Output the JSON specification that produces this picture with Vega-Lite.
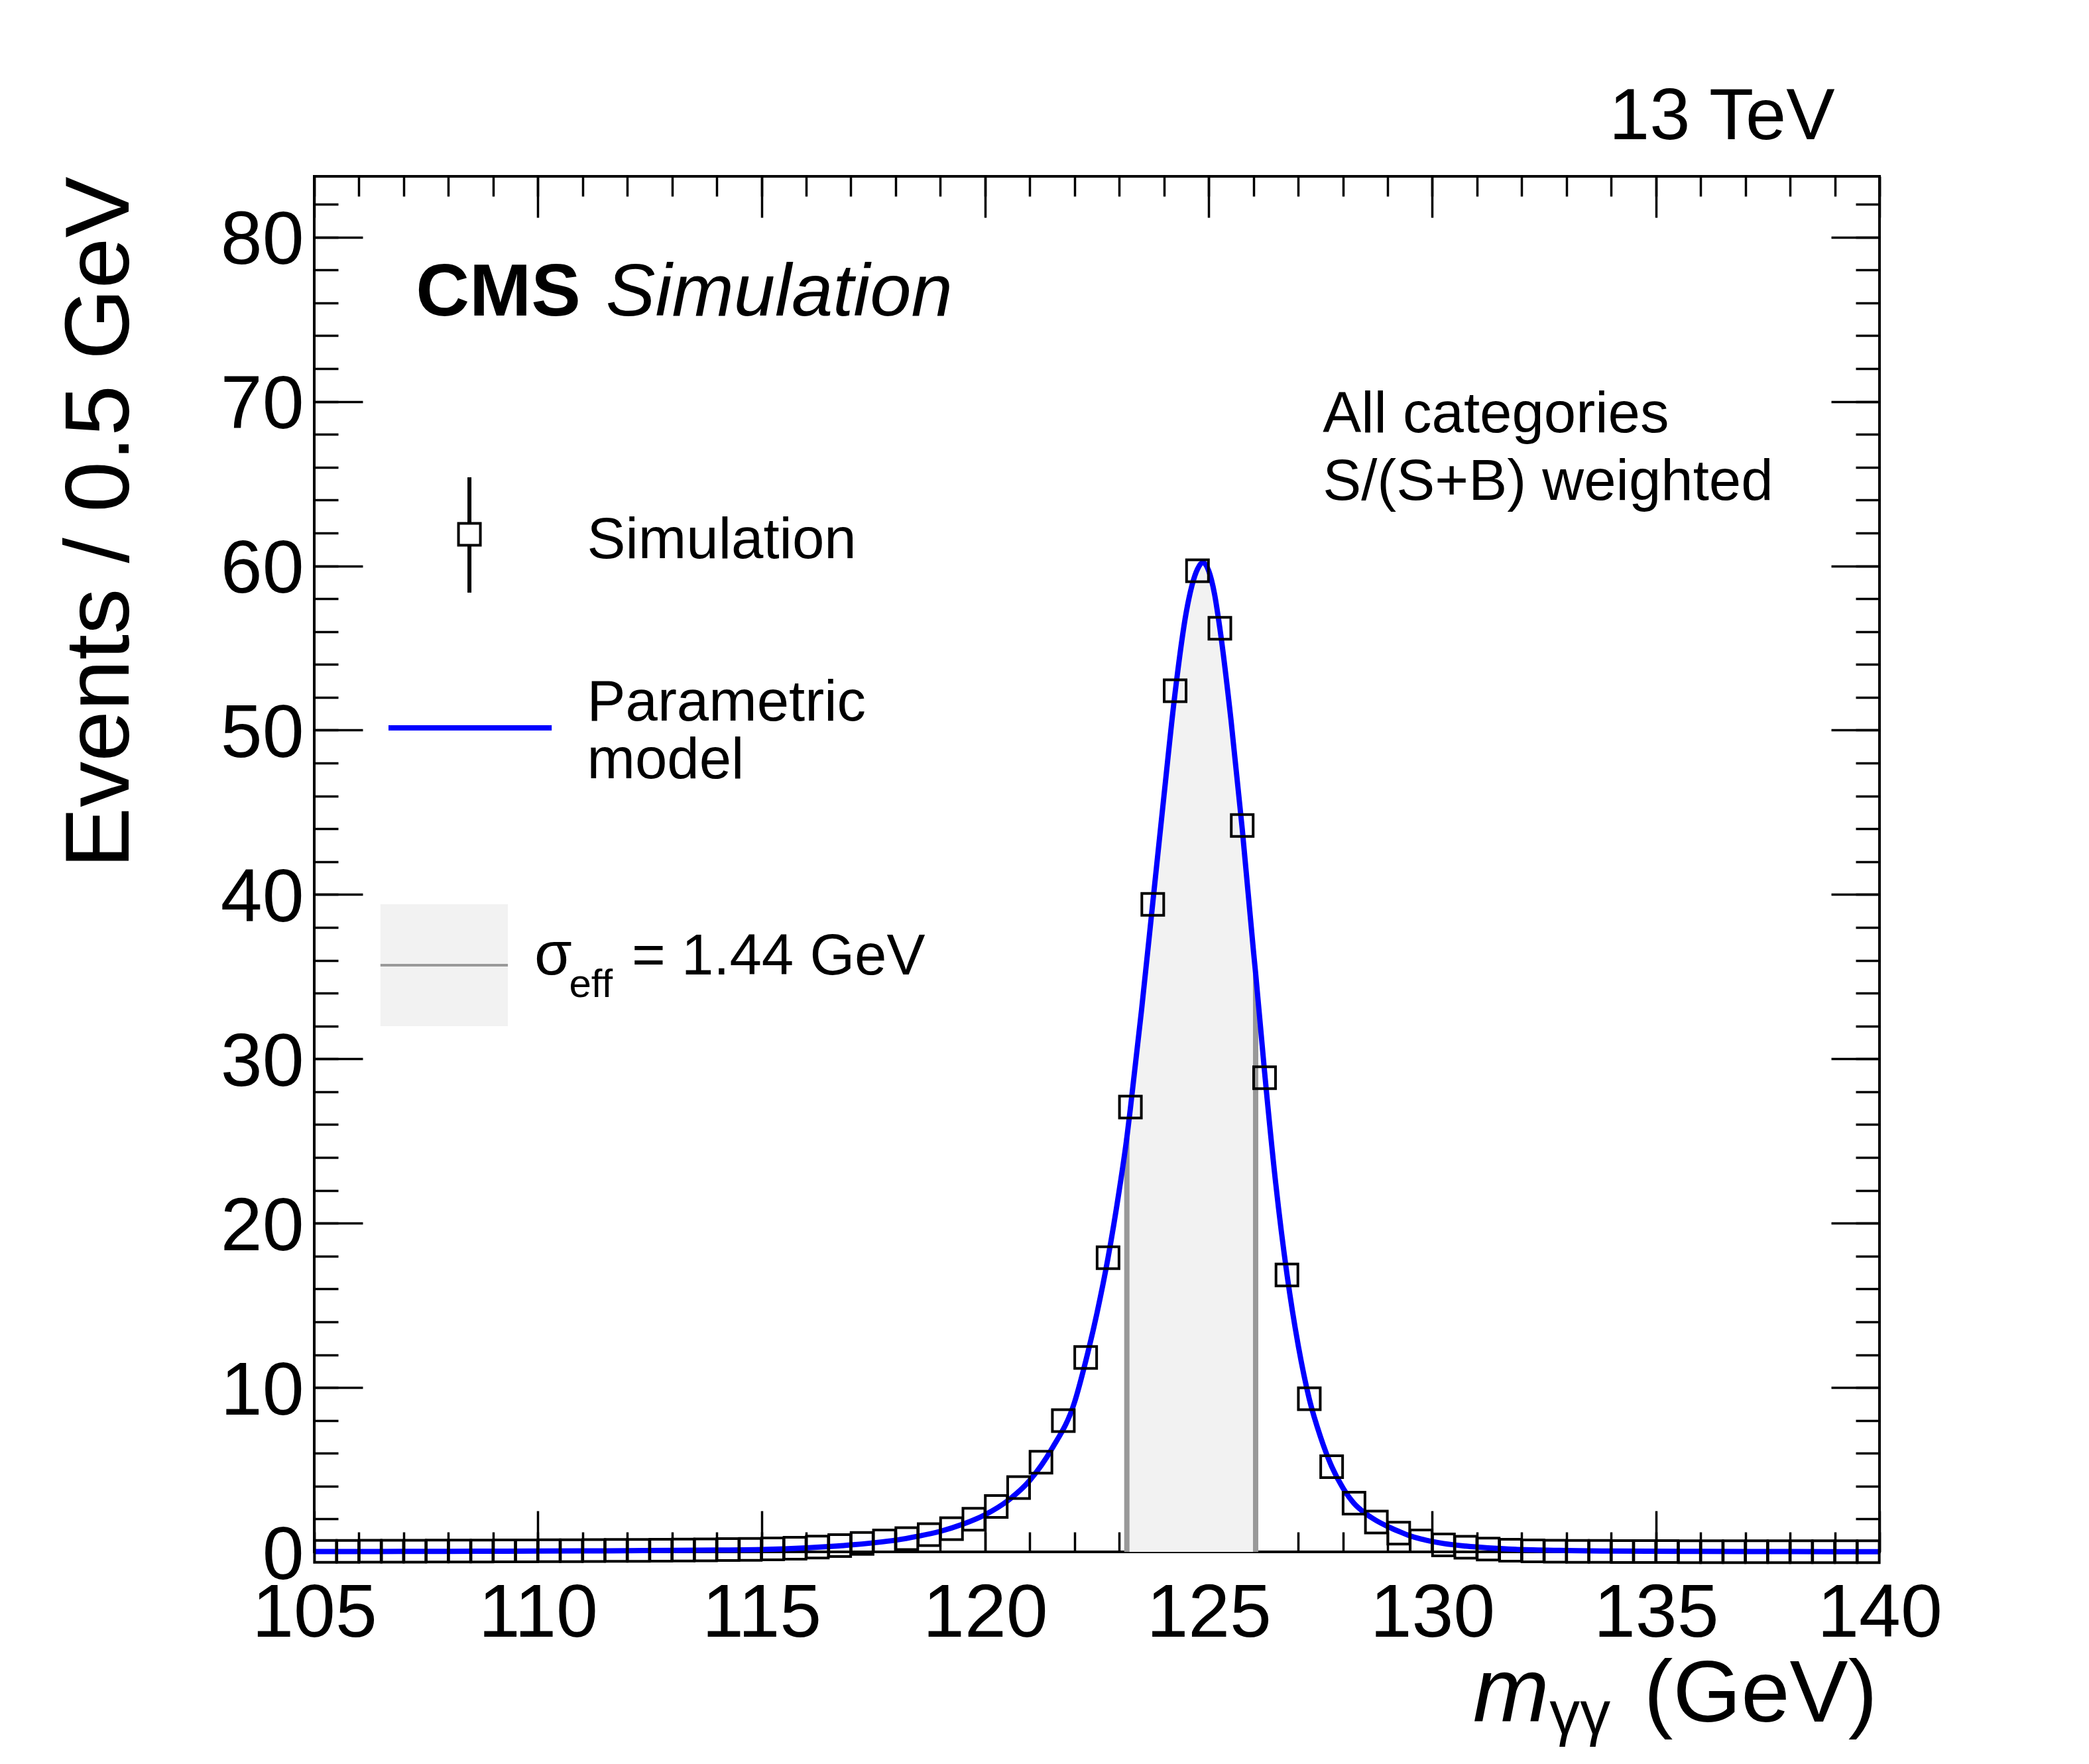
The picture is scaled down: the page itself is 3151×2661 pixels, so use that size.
{
  "$schema": "https://vega.github.io/schema/vega-lite/v6.json",
  "width": 2361,
  "height": 2075,
  "padding": {"left": 474, "top": 266, "right": 316, "bottom": 320},
  "autosize": "none",
  "background": "white",
  "datasets": {
    "sim": [
      {"m": 105.25, "n": 0.03}, {"m": 105.75, "n": 0.03}, {"m": 106.25, "n": 0.04}, {"m": 106.75, "n": 0.04},
      {"m": 107.25, "n": 0.04}, {"m": 107.75, "n": 0.05}, {"m": 108.25, "n": 0.05}, {"m": 108.75, "n": 0.05},
      {"m": 109.25, "n": 0.06}, {"m": 109.75, "n": 0.06}, {"m": 110.25, "n": 0.07}, {"m": 110.75, "n": 0.07},
      {"m": 111.25, "n": 0.08}, {"m": 111.75, "n": 0.09}, {"m": 112.25, "n": 0.09}, {"m": 112.75, "n": 0.1},
      {"m": 113.25, "n": 0.11}, {"m": 113.75, "n": 0.12}, {"m": 114.25, "n": 0.14}, {"m": 114.75, "n": 0.15},
      {"m": 115.25, "n": 0.18}, {"m": 115.75, "n": 0.22}, {"m": 116.25, "n": 0.29}, {"m": 116.75, "n": 0.38},
      {"m": 117.25, "n": 0.51}, {"m": 117.75, "n": 0.67}, {"m": 118.25, "n": 0.81}, {"m": 118.75, "n": 1.05},
      {"m": 119.25, "n": 1.41}, {"m": 119.75, "n": 1.99}, {"m": 120.25, "n": 2.76}, {"m": 120.75, "n": 3.91},
      {"m": 121.25, "n": 5.46}, {"m": 121.75, "n": 7.99}, {"m": 122.25, "n": 11.83}, {"m": 122.75, "n": 17.9},
      {"m": 123.25, "n": 27.07}, {"m": 123.75, "n": 39.4}, {"m": 124.25, "n": 52.4}, {"m": 124.75, "n": 59.7},
      {"m": 125.25, "n": 56.2}, {"m": 125.75, "n": 44.2}, {"m": 126.25, "n": 28.85}, {"m": 126.75, "n": 16.85},
      {"m": 127.25, "n": 9.32}, {"m": 127.75, "n": 5.18}, {"m": 128.25, "n": 2.96}, {"m": 128.75, "n": 1.82},
      {"m": 129.25, "n": 1.14}, {"m": 129.75, "n": 0.67}, {"m": 130.25, "n": 0.42}, {"m": 130.75, "n": 0.28},
      {"m": 131.25, "n": 0.17}, {"m": 131.75, "n": 0.1}, {"m": 132.25, "n": 0.06}, {"m": 132.75, "n": 0.04},
      {"m": 133.25, "n": 0.03}, {"m": 133.75, "n": 0.03}, {"m": 134.25, "n": 0.02}, {"m": 134.75, "n": 0.02},
      {"m": 135.25, "n": 0.02}, {"m": 135.75, "n": 0.01}, {"m": 136.25, "n": 0.01}, {"m": 136.75, "n": 0.01},
      {"m": 137.25, "n": 0.01}, {"m": 137.75, "n": 0.01}, {"m": 138.25, "n": 0.01}, {"m": 138.75, "n": 0.01},
      {"m": 139.25, "n": 0.01}, {"m": 139.75, "n": 0.01}
    ],
    "model": [
      {"m": 105.0, "f": 0.02}, {"m": 106.0, "f": 0.02}, {"m": 107.0, "f": 0.03}, {"m": 108.0, "f": 0.03},
      {"m": 109.0, "f": 0.04}, {"m": 110.0, "f": 0.05}, {"m": 111.0, "f": 0.06}, {"m": 112.0, "f": 0.07},
      {"m": 113.0, "f": 0.09}, {"m": 114.0, "f": 0.11}, {"m": 115.0, "f": 0.14}, {"m": 115.5, "f": 0.18},
      {"m": 116.0, "f": 0.24}, {"m": 116.5, "f": 0.32}, {"m": 117.0, "f": 0.42}, {"m": 117.5, "f": 0.55},
      {"m": 118.0, "f": 0.71}, {"m": 118.5, "f": 0.95}, {"m": 119.0, "f": 1.25}, {"m": 119.5, "f": 1.68},
      {"m": 120.0, "f": 2.26}, {"m": 120.5, "f": 3.1}, {"m": 121.0, "f": 4.35}, {"m": 121.5, "f": 6.3},
      {"m": 122.0, "f": 9.1}, {"m": 122.25, "f": 11.6}, {"m": 122.5, "f": 14.5}, {"m": 122.75, "f": 17.9},
      {"m": 123.0, "f": 22.0}, {"m": 123.17, "f": 25.2}, {"m": 123.25, "f": 27.0}, {"m": 123.5, "f": 33.0},
      {"m": 123.75, "f": 39.5}, {"m": 124.0, "f": 46.0}, {"m": 124.25, "f": 52.3}, {"m": 124.5, "f": 57.2},
      {"m": 124.75, "f": 59.8}, {"m": 124.87, "f": 60.2}, {"m": 125.0, "f": 59.7}, {"m": 125.13, "f": 58.3},
      {"m": 125.25, "f": 56.2}, {"m": 125.5, "f": 50.6}, {"m": 125.75, "f": 44.0}, {"m": 126.0, "f": 36.6},
      {"m": 126.05, "f": 35.2}, {"m": 126.25, "f": 29.2}, {"m": 126.5, "f": 22.4}, {"m": 126.75, "f": 16.9},
      {"m": 127.0, "f": 12.6}, {"m": 127.25, "f": 9.3}, {"m": 127.5, "f": 7.0}, {"m": 127.75, "f": 5.2},
      {"m": 128.0, "f": 3.9}, {"m": 128.25, "f": 2.95}, {"m": 128.5, "f": 2.35}, {"m": 128.75, "f": 1.9},
      {"m": 129.0, "f": 1.55}, {"m": 129.25, "f": 1.25}, {"m": 129.5, "f": 0.98}, {"m": 129.75, "f": 0.78},
      {"m": 130.0, "f": 0.63}, {"m": 130.25, "f": 0.51}, {"m": 130.75, "f": 0.35}, {"m": 131.25, "f": 0.24},
      {"m": 132.0, "f": 0.14}, {"m": 133.0, "f": 0.08}, {"m": 134.0, "f": 0.05}, {"m": 136.0, "f": 0.03},
      {"m": 138.0, "f": 0.02}, {"m": 140.0, "f": 0.01}
    ],
    "edges": [
      {"m": 123.17, "f": 25.2},
      {"m": 126.05, "f": 35.2}
    ],
    "one": [{}]
  },
  "resolve": {"axis": {"x": "independent", "y": "independent"}},
  "layer": [
    {
      "data": {"name": "model"},
      "transform": [{"filter": "datum.m >= 123.17 && datum.m <= 126.05"}],
      "mark": {"type": "area", "color": "#f2f2f2", "interpolate": "monotone"},
      "encoding": {
        "x": {
          "field": "m", "type": "quantitative",
          "scale": {"domain": [105, 140], "nice": false, "zero": false},
          "axis": {
            "orient": "bottom", "values": [105, 110, 115, 120, 125, 130, 135, 140],
            "tickSize": -62, "tickWidth": 3.5, "tickColor": "black", "domain": false,
            "labelFontSize": 113, "labelColor": "black", "labelPadding": 100, "labelLimit": 0,
            "labelFlush": false, "labelOverlap": false, "labelBaseline": "top", "title": null
          }
        },
        "y": {
          "field": "f", "type": "quantitative",
          "scale": {"domain": [0, 83.7], "nice": false, "zero": false},
          "axis": {
            "orient": "left", "values": [0, 10, 20, 30, 40, 50, 60, 70, 80],
            "tickSize": -73, "tickWidth": 3.5, "tickColor": "black", "domain": false,
            "labelFontSize": 113, "labelColor": "black", "labelPadding": 89, "labelOffset": 6,
            "labelOverlap": false, "labelFlush": false, "labelLimit": 0,
            "title": "Events / 0.5 GeV", "titleFontSize": 138, "titleFontWeight": "normal",
            "titleColor": "black", "titleAnchor": "end", "titlePadding": 110
          }
        }
      }
    },
    {
      "data": {"name": "edges"},
      "mark": {"type": "rule", "color": "#999999", "strokeWidth": 8},
      "encoding": {
        "x": {
          "field": "m", "type": "quantitative",
          "axis": {
            "orient": "bottom",
            "values": [105, 106, 107, 108, 109, 110, 111, 112, 113, 114, 115, 116, 117, 118, 119, 120, 121, 122, 123, 124, 125, 126, 127, 128, 129, 130, 131, 132, 133, 134, 135, 136, 137, 138, 139, 140],
            "tickSize": -30, "tickWidth": 3.5, "tickColor": "black", "domain": false,
            "labels": false, "title": null
          }
        },
        "y": {
          "field": "f", "type": "quantitative",
          "axis": {
            "orient": "left",
            "values": [0, 2, 4, 6, 8, 10, 12, 14, 16, 18, 20, 22, 24, 26, 28, 30, 32, 34, 36, 38, 40, 42, 44, 46, 48, 50, 52, 54, 56, 58, 60, 62, 64, 66, 68, 70, 72, 74, 76, 78, 80, 82],
            "tickSize": -36, "tickWidth": 3.5, "tickColor": "black", "domain": false,
            "labels": false, "title": null
          }
        },
        "y2": {"datum": 0}
      }
    },
    {
      "data": {"name": "model"},
      "mark": {"type": "line", "color": "#0000ff", "strokeWidth": 8, "interpolate": "monotone"},
      "encoding": {
        "x": {
          "field": "m", "type": "quantitative",
          "axis": {
            "orient": "top", "values": [105, 110, 115, 120, 125, 130, 135, 140],
            "tickSize": -62, "tickWidth": 3.5, "tickColor": "black", "domain": false,
            "labels": false, "title": null
          }
        },
        "y": {
          "field": "f", "type": "quantitative",
          "axis": {
            "orient": "right", "values": [0, 10, 20, 30, 40, 50, 60, 70, 80],
            "tickSize": -73, "tickWidth": 3.5, "tickColor": "black", "domain": false,
            "labels": false, "title": null
          }
        }
      }
    },
    {
      "data": {"name": "sim"},
      "mark": {"type": "point", "shape": "square", "filled": false, "color": "black", "opacity": 1, "strokeWidth": 4, "size": 1089},
      "encoding": {
        "x": {
          "field": "m", "type": "quantitative",
          "axis": {
            "orient": "top",
            "values": [105, 106, 107, 108, 109, 110, 111, 112, 113, 114, 115, 116, 117, 118, 119, 120, 121, 122, 123, 124, 125, 126, 127, 128, 129, 130, 131, 132, 133, 134, 135, 136, 137, 138, 139, 140],
            "tickSize": -30, "tickWidth": 3.5, "tickColor": "black", "domain": false,
            "labels": false, "title": null
          }
        },
        "y": {
          "field": "n", "type": "quantitative",
          "axis": {
            "orient": "right",
            "values": [0, 2, 4, 6, 8, 10, 12, 14, 16, 18, 20, 22, 24, 26, 28, 30, 32, 34, 36, 38, 40, 42, 44, 46, 48, 50, 52, 54, 56, 58, 60, 62, 64, 66, 68, 70, 72, 74, 76, 78, 80, 82],
            "tickSize": -36, "tickWidth": 3.5, "tickColor": "black", "domain": false,
            "labels": false, "title": null
          }
        }
      }
    },
    {
      "data": {"name": "one"},
      "mark": {"type": "rect", "color": "#f2f2f2"},
      "encoding": {
        "x": {"datum": 106.48, "axis": null}, "x2": {"datum": 109.33},
        "y": {"datum": 31.99, "axis": null}, "y2": {"datum": 39.41}
      }
    },
    {
      "data": {"name": "one"},
      "mark": {"type": "rule", "color": "#999999", "strokeWidth": 4},
      "encoding": {
        "x": {"datum": 106.48, "axis": null}, "x2": {"datum": 109.33},
        "y": {"datum": 35.7, "axis": null}
      }
    },
    {
      "data": {"name": "one"},
      "mark": {"type": "rule", "color": "#0000ff", "strokeWidth": 8},
      "encoding": {
        "x": {"datum": 106.66, "axis": null}, "x2": {"datum": 110.31},
        "y": {"datum": 50.14, "axis": null}
      }
    },
    {
      "data": {"name": "one"},
      "mark": {"type": "rule", "color": "black", "strokeWidth": 6},
      "encoding": {
        "x": {"datum": 108.47, "axis": null},
        "y": {"datum": 58.37, "axis": null}, "y2": {"datum": 65.39}
      }
    },
    {
      "data": {"name": "one"},
      "mark": {"type": "point", "shape": "square", "filled": true, "fill": "white", "stroke": "black", "opacity": 1, "strokeWidth": 4, "size": 1089},
      "encoding": {
        "x": {"datum": 108.47, "axis": null},
        "y": {"datum": 61.92, "axis": null}
      }
    },
    {
      "data": {"name": "one"},
      "mark": {"type": "text", "text": "13 TeV", "fontSize": 110, "align": "right", "baseline": "alphabetic"},
      "encoding": {"x": {"datum": 139.0, "axis": null}, "y": {"datum": 85.96, "axis": null}}
    },
    {
      "data": {"name": "one"},
      "mark": {"type": "text", "text": "CMS", "fontSize": 112, "fontWeight": "bold", "align": "left", "baseline": "alphabetic"},
      "encoding": {"x": {"datum": 107.27, "axis": null}, "y": {"datum": 75.23, "axis": null}}
    },
    {
      "data": {"name": "one"},
      "mark": {"type": "text", "text": "Simulation", "fontSize": 112, "fontStyle": "italic", "align": "left", "baseline": "alphabetic"},
      "encoding": {"x": {"datum": 111.52, "axis": null}, "y": {"datum": 75.23, "axis": null}}
    },
    {
      "data": {"name": "one"},
      "mark": {"type": "text", "text": "All categories", "fontSize": 87, "align": "left", "baseline": "alphabetic"},
      "encoding": {"x": {"datum": 127.55, "axis": null}, "y": {"datum": 68.13, "axis": null}}
    },
    {
      "data": {"name": "one"},
      "mark": {"type": "text", "text": "S/(S+B) weighted", "fontSize": 87, "align": "left", "baseline": "alphabetic"},
      "encoding": {"x": {"datum": 127.55, "axis": null}, "y": {"datum": 64.02, "axis": null}}
    },
    {
      "data": {"name": "one"},
      "mark": {"type": "text", "text": "Simulation", "fontSize": 87, "align": "left", "baseline": "alphabetic"},
      "encoding": {"x": {"datum": 111.1, "axis": null}, "y": {"datum": 60.47, "axis": null}}
    },
    {
      "data": {"name": "one"},
      "mark": {"type": "text", "text": "Parametric", "fontSize": 87, "align": "left", "baseline": "alphabetic"},
      "encoding": {"x": {"datum": 111.1, "axis": null}, "y": {"datum": 50.6, "axis": null}}
    },
    {
      "data": {"name": "one"},
      "mark": {"type": "text", "text": "model", "fontSize": 87, "align": "left", "baseline": "alphabetic"},
      "encoding": {"x": {"datum": 111.1, "axis": null}, "y": {"datum": 47.07, "axis": null}}
    },
    {
      "data": {"name": "one"},
      "mark": {"type": "text", "text": "σ", "fontSize": 92, "align": "left", "baseline": "alphabetic"},
      "encoding": {"x": {"datum": 109.92, "axis": null}, "y": {"datum": 35.14, "axis": null}}
    },
    {
      "data": {"name": "one"},
      "mark": {"type": "text", "text": "eff", "fontSize": 60, "align": "left", "baseline": "alphabetic"},
      "encoding": {"x": {"datum": 110.7, "axis": null}, "y": {"datum": 33.76, "axis": null}}
    },
    {
      "data": {"name": "one"},
      "mark": {"type": "text", "text": "= 1.44 GeV", "fontSize": 87, "align": "left", "baseline": "alphabetic"},
      "encoding": {"x": {"datum": 112.1, "axis": null}, "y": {"datum": 35.14, "axis": null}}
    },
    {
      "data": {"name": "one"},
      "mark": {"type": "text", "text": "m", "fontSize": 138, "fontStyle": "italic", "align": "left", "baseline": "alphabetic"},
      "encoding": {"x": {"datum": 130.91, "axis": null}, "y": {"datum": -10.33, "axis": null}}
    },
    {
      "data": {"name": "one"},
      "mark": {"type": "text", "text": "γγ", "fontSize": 92, "align": "left", "baseline": "alphabetic"},
      "encoding": {"x": {"datum": 132.62, "axis": null}, "y": {"datum": -11.1, "axis": null}}
    },
    {
      "data": {"name": "one"},
      "mark": {"type": "text", "text": "(GeV)", "fontSize": 132, "align": "right", "baseline": "alphabetic"},
      "encoding": {"x": {"datum": 139.95, "axis": null}, "y": {"datum": -10.33, "axis": null}}
    }
  ],
  "config": {
    "font": "Liberation Sans",
    "view": {"stroke": "black", "strokeWidth": 4},
    "axis": {"grid": false},
    "text": {"color": "black"}
  }
}
